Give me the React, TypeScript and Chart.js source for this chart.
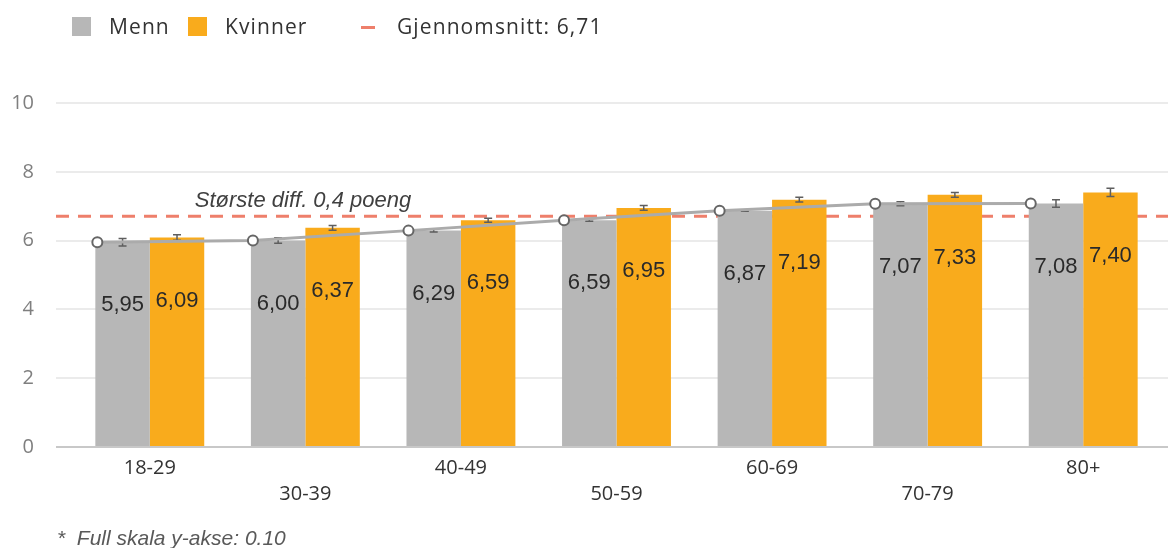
import React, { useEffect, useRef } from "react";
import { Chart, registerables } from "chart.js";

Chart.register(...registerables);

const categories = ["18-29", "30-39", "40-49", "50-59", "60-69", "70-79", "80+"];
const menn = [5.95, 6.0, 6.29, 6.59, 6.87, 7.07, 7.08];
const kvinner = [6.09, 6.37, 6.59, 6.95, 7.19, 7.33, 7.4];
const mennErr = [0.11, 0.08, 0.04, 0.03, 0.02, 0.06, 0.11];
const kvinnerErr = [0.08, 0.07, 0.06, 0.07, 0.07, 0.07, 0.12];
const average = 6.71;
const annotationText = "Største diff. 0,4 poeng";
const footnote = "*  Full skala y-akse: 0.10";

const GRAY = "#B7B7B7";
const ORANGE = "#F9AB1C";
const AVG_COLOR = "#EE7F6B";

const fmt = (v: number) => v.toFixed(2).replace(".", ",");

const customPlugin = {
  id: "custom",
  afterDatasetsUpdate(chart: any) {
    const barMeta = chart.getDatasetMeta(0);
    const lineMeta = chart.getDatasetMeta(2);
    lineMeta.data.forEach((pt: any, i: number) => {
      const bar = barMeta.data[i];
      pt.x = bar.x - bar.width / 2 + 2;
    });
  },
  beforeDatasetsDraw(chart: any) {
    const { ctx, chartArea, scales } = chart;
    const y = scales.y;
    const x = scales.x;
    const left = chartArea.left - 16;
    const right = chart.width;
    ctx.save();
    y.ticks.forEach((t: any) => {
      if (t.value === 0) return;
      const py = Math.round(y.getPixelForValue(t.value));
      ctx.strokeStyle = "#EBEBEB";
      ctx.lineWidth = 2;
      ctx.beginPath();
      ctx.moveTo(left, py);
      ctx.lineTo(right, py);
      ctx.stroke();
    });
    const ay = y.getPixelForValue(average);
    ctx.setLineDash([13, 9]);
    ctx.strokeStyle = AVG_COLOR;
    ctx.lineWidth = 3;
    ctx.beginPath();
    ctx.moveTo(left, ay);
    ctx.lineTo(right, ay);
    ctx.stroke();
    ctx.setLineDash([]);
    ctx.font = "italic 22px 'Liberation Sans', Arial, sans-serif";
    ctx.fillStyle = "#404040";
    ctx.textAlign = "left";
    ctx.textBaseline = "alphabetic";
    ctx.fillText(annotationText, x.getPixelForValue(0) + 45, ay - 9);
    ctx.restore();
  },
  afterDatasetDraw(chart: any, args: any) {
    if (args.index > 1) return;
    const { ctx, scales } = chart;
    const y = scales.y;
    const vals = args.index === 0 ? menn : kvinner;
    const errs = args.index === 0 ? mennErr : kvinnerErr;
    const meta = chart.getDatasetMeta(args.index);
    ctx.save();
    ctx.strokeStyle = "#5E5E5E";
    ctx.lineWidth = 1.5;
    meta.data.forEach((bar: any, i: number) => {
      const top = y.getPixelForValue(vals[i] + errs[i]);
      const bot = y.getPixelForValue(vals[i] - errs[i]);
      const cx = bar.x;
      ctx.beginPath();
      ctx.moveTo(cx, top);
      ctx.lineTo(cx, bot);
      ctx.moveTo(cx - 4, top);
      ctx.lineTo(cx + 4, top);
      ctx.moveTo(cx - 4, bot);
      ctx.lineTo(cx + 4, bot);
      ctx.stroke();
    });
    ctx.restore();
  },
  afterDatasetsDraw(chart: any) {
    const { ctx, chartArea, scales } = chart;
    const y = scales.y;
    ctx.save();
    const py = y.getPixelForValue(0);
    ctx.strokeStyle = "#C8C8C8";
    ctx.lineWidth = 2;
    ctx.beginPath();
    ctx.moveTo(chartArea.left - 16, py);
    ctx.lineTo(chart.width, py);
    ctx.stroke();
    ctx.font = "22px 'Liberation Sans', Arial, sans-serif";
    ctx.fillStyle = "#2A2A2A";
    ctx.textAlign = "center";
    ctx.textBaseline = "middle";
    [0, 1].forEach((di) => {
      const vals = di === 0 ? menn : kvinner;
      const meta = chart.getDatasetMeta(di);
      meta.data.forEach((bar: any, i: number) => {
        ctx.fillText(fmt(vals[i]), bar.x, y.getPixelForValue(vals[i]) + 63);
      });
    });
    ctx.restore();
  },
};

function Legend() {
  const text: React.CSSProperties = {
    position: "absolute",
    top: 16,
    fontFamily: "'Open Sans', sans-serif",
    fontSize: 21,
    lineHeight: "21px",
    letterSpacing: "1.1px",
    color: "#333",
    whiteSpace: "pre",
  };
  return (
    <>
      <div style={{ position: "absolute", left: 72, top: 17, width: 19, height: 19, background: GRAY }} />
      <div style={{ ...text, left: 109 }}>Menn</div>
      <div style={{ position: "absolute", left: 188, top: 17, width: 19, height: 19, background: ORANGE }} />
      <div style={{ ...text, left: 225 }}>Kvinner</div>
      <div style={{ position: "absolute", left: 361, top: 26, width: 14, height: 3, background: AVG_COLOR }} />
      <div style={{ ...text, left: 397 }}>{"Gjennomsnitt: " + fmt(average)}</div>
    </>
  );
}

export default function App() {
  const ref = useRef<HTMLCanvasElement>(null);
  useEffect(() => {
    if (!ref.current) return;
    const chart = new Chart(ref.current, {
      type: "bar",
      data: {
        labels: categories.map((c, i) => (i % 2 === 0 ? [c] : ["", c])),
        datasets: [
          {
            label: "Menn",
            data: menn,
            backgroundColor: GRAY,
            borderWidth: 0,
            categoryPercentage: 0.7,
            barPercentage: 1.0,
            order: 1,
          },
          {
            label: "Kvinner",
            data: kvinner,
            backgroundColor: ORANGE,
            borderWidth: 0,
            categoryPercentage: 0.7,
            barPercentage: 1.0,
            order: 1,
          },
          {
            type: "line",
            label: "Menn trend",
            data: menn,
            borderColor: "#ABABAB",
            borderWidth: 3,
            pointRadius: 5,
            pointBackgroundColor: "#FFFFFF",
            pointBorderColor: "#666666",
            pointBorderWidth: 2,
            tension: 0,
            order: 0,
          } as any,
        ],
      },
      options: {
        animation: false,
        responsive: true,
        maintainAspectRatio: false,
        layout: { padding: { top: 103, left: 0, right: 0, bottom: 0 } },
        plugins: { legend: { display: false }, tooltip: { enabled: false } },
        scales: {
          x: {
            grid: { display: false },
            border: { display: false },
            ticks: {
              autoSkip: false,
              maxRotation: 0,
              padding: 1,
              color: "#333",
              font: { family: "'Open Sans', sans-serif", size: 20, lineHeight: 1.275 },
            },
            afterFit: (s: any) => {
              s.height = 101;
            },
          },
          y: {
            min: 0,
            max: 10,
            grid: { display: false },
            border: { display: false },
            ticks: {
              stepSize: 2,
              padding: 30,
              color: "#7F7F7F",
              font: { family: "'Open Sans', sans-serif", size: 20 },
            },
            afterFit: (s: any) => {
              s.width = 72;
            },
          },
        },
      },
      plugins: [customPlugin],
    });
    return () => chart.destroy();
  }, []);

  return (
    <div style={{ position: "absolute", left: 0, top: 0, width: 1168, height: 548, overflow: "hidden", background: "#fff" }}>
      <canvas ref={ref} />
      <Legend />
      <div
        style={{
          position: "absolute",
          left: 57,
          top: 527,
          fontFamily: "'Liberation Sans', Arial, sans-serif",
          fontStyle: "italic",
          fontSize: 21,
          lineHeight: "21px",
          color: "#595959",
          whiteSpace: "pre",
        }}
      >
        {footnote}
      </div>
    </div>
  );
}
